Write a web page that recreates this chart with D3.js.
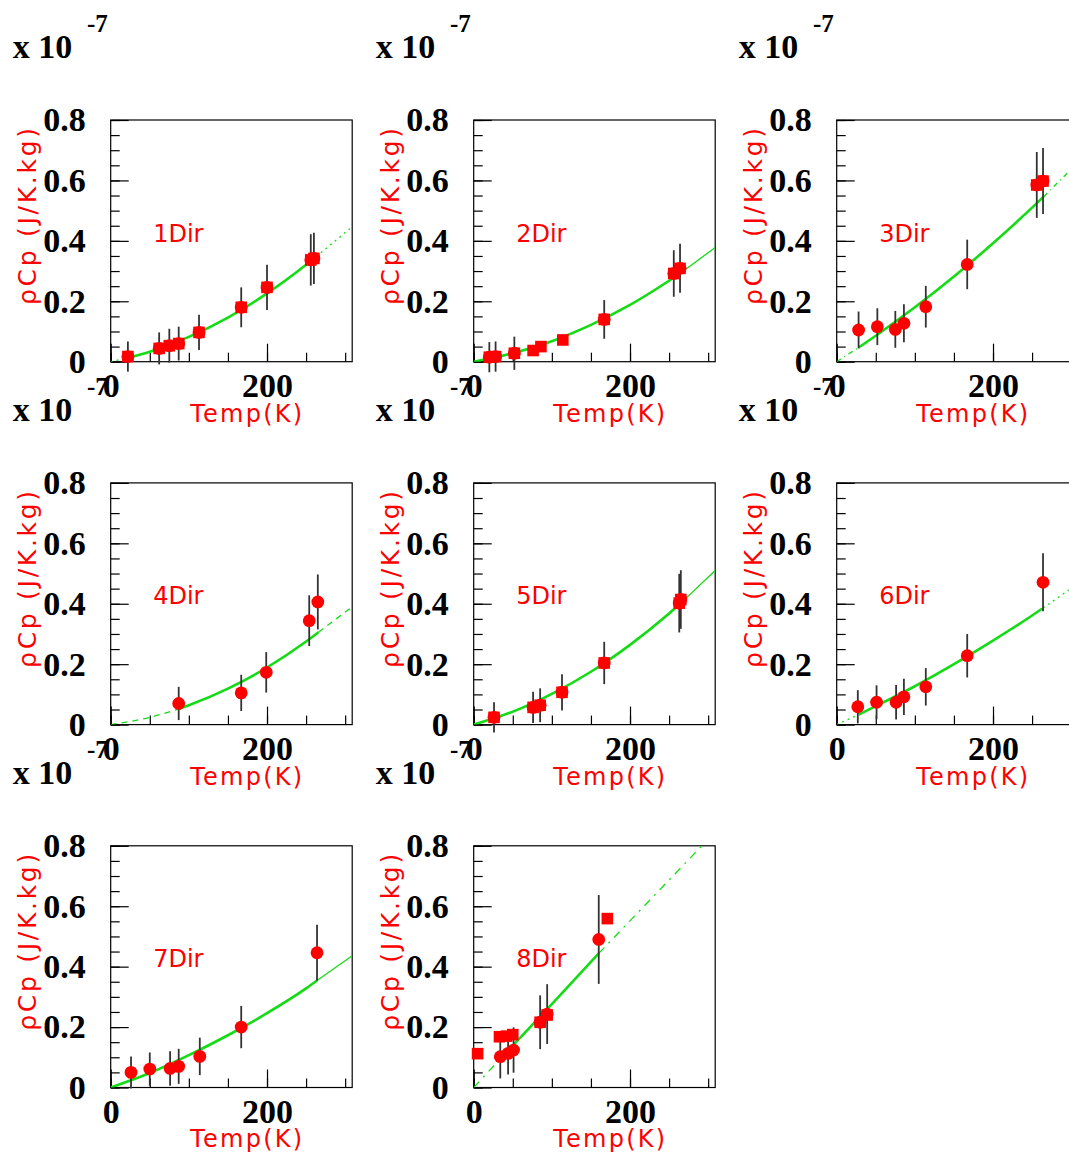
<!DOCTYPE html>
<html><head><meta charset="utf-8">
<script src="https://cdn.jsdelivr.net/npm/d3@7"></script>
<style>body{margin:0;background:#fff;} svg{display:block;}</style>
</head><body><svg id="c" width="1069" height="1158"></svg>
<script>
// ---- data ----
const panelNames = ["1Dir","2Dir","3Dir","4Dir","5Dir","6Dir","7Dir","8Dir"];
const xTickLabels = [0, 200];
const yTickLabels = [0, 0.2, 0.4, 0.6, 0.8];
const xMinorTicks = [0, 50, 100, 150, 200, 250, 300];
const yMinorTicks = [0,0.05,0.1,0.15,0.2,0.25,0.3,0.35,0.4,0.45,0.5,0.55,0.6,0.65,0.7,0.75,0.8];
const xTitle = "Temp(K)";
const yTitle = "\u03C1Cp (J/K.kg)";
const expBase = "x 10";
const expPow = "-7";

// Panel 1
const p1T = [22, 62, 75, 87, 113, 167, 200, 256, 260];
const p1V = [0.017, 0.044, 0.053, 0.06, 0.097, 0.18, 0.246, 0.337, 0.342];
const p1E = [0.05, 0.053, 0.056, 0.056, 0.058, 0.066, 0.075, 0.085, 0.085];
const p1ST = [22, 62, 75, 87, 113, 167, 200, 256, 260];
const p1SV = [0.017, 0.044, 0.053, 0.06, 0.097, 0.18, 0.246, 0.337, 0.342];
const p1FitT = [0, 24, 50, 100, 150, 200, 250, 263, 306];
const p1FitV = [0, 0.014, 0.033, 0.082, 0.146, 0.226, 0.321, 0.348, 0.44];
const p1FitRange = [24, 263];
// Panel 2
const p2T = [20, 28, 52, 167, 256, 264];
const p2V = [0.015, 0.017, 0.028, 0.14, 0.292, 0.309];
const p2E = [0.05, 0.05, 0.055, 0.064, 0.077, 0.081];
const p2ST = [20, 28, 52, 76, 86, 114, 167, 256, 264];
const p2SV = [0.015, 0.017, 0.028, 0.037, 0.05, 0.072, 0.14, 0.292, 0.309];
const p2FitT = [0, 50, 100, 150, 200, 250, 264, 309];
const p2FitV = [0, 0.028, 0.068, 0.122, 0.188, 0.268, 0.292, 0.378];
const p2FitRange = [0, 264];
// Panel 3
const p3T = [28, 52, 75, 86, 114, 167, 256, 264];
const p3V = [0.105, 0.116, 0.107, 0.127, 0.182, 0.322, 0.585, 0.598];
const p3E = [0.061, 0.061, 0.061, 0.063, 0.069, 0.082, 0.109, 0.109];
const p3ST = [256, 264];
const p3SV = [0.585, 0.598];
const p3FitT = [0, 28, 50, 100, 150, 200, 250, 265, 309];
const p3FitV = [0, 0.047, 0.086, 0.18, 0.282, 0.392, 0.51, 0.547, 0.66];
const p3FitRange = [28, 265];
// Panel 4
const p4T = [87, 167, 199, 254, 265];
const p4V = [0.07, 0.105, 0.173, 0.344, 0.406];
const p4E = [0.055, 0.06, 0.067, 0.084, 0.091];
const p4ST = [];
const p4SV = [];
const p4FitT = [0, 50, 87, 100, 150, 200, 250, 266, 309];
const p4FitV = [0, 0.024, 0.052, 0.064, 0.119, 0.189, 0.275, 0.306, 0.39];
const p4FitRange = [87, 266];
// Panel 5
const p5T = [26, 76, 85, 113, 167, 263, 265];
const p5V = [0.024, 0.057, 0.064, 0.107, 0.204, 0.402, 0.414];
const p5E = [0.05, 0.052, 0.056, 0.06, 0.07, 0.097, 0.097];
const p5ST = [26, 76, 85, 113, 167, 263, 265];
const p5SV = [0.024, 0.057, 0.064, 0.107, 0.204, 0.402, 0.414];
const p5FitT = [0, 50, 100, 150, 200, 250, 265, 309];
const p5FitV = [0, 0.043, 0.102, 0.175, 0.264, 0.368, 0.402, 0.51];
const p5FitRange = [0, 265];
// Panel 6
const p6T = [27, 51, 76, 86, 114, 167, 264];
const p6V = [0.059, 0.074, 0.074, 0.092, 0.125, 0.228, 0.471];
const p6E = [0.055, 0.056, 0.057, 0.06, 0.062, 0.072, 0.096];
const p6ST = [];
const p6SV = [];
const p6FitT = [0, 28, 50, 100, 150, 200, 250, 264, 309];
const p6FitV = [0, 0.033, 0.061, 0.127, 0.2, 0.278, 0.361, 0.386, 0.467];
const p6FitRange = [28, 264];
// Panel 7
const p7T = [26, 50, 76, 87, 114, 167, 264];
const p7V = [0.05, 0.061, 0.063, 0.07, 0.103, 0.2, 0.446];
const p7E = [0.053, 0.055, 0.057, 0.058, 0.062, 0.07, 0.093];
const p7ST = [];
const p7SV = [];
const p7FitT = [0, 50, 100, 150, 200, 250, 264, 309];
const p7FitV = [0, 0.048, 0.107, 0.173, 0.246, 0.328, 0.354, 0.436];
const p7FitRange = [0, 264];
// Panel 8
const p8T = [34, 44, 51, 85, 94, 160];
const p8V = [0.102, 0.113, 0.124, 0.216, 0.243, 0.49];
const p8E = [0.072, 0.07, 0.075, 0.089, 0.099, 0.147];
const p8ST = [5, 33, 42, 50, 85, 94, 171];
const p8SV = [0.112, 0.168, 0.17, 0.175, 0.216, 0.24, 0.559];
const p8FitT = [0, 33, 100, 160, 292];
const p8FitV = [0, 0.092, 0.276, 0.444, 0.8];
const p8FitRange = [33, 160];

// ---- styles (separate from data) ----
const extDash = ["2,4", null, "5,4,1,4", "6,5", null, "2,4", null, "8,6,2,6"];

const panels = [
  [p1T,p1V,p1E,p1ST,p1SV,p1FitT,p1FitV,p1FitRange],
  [p2T,p2V,p2E,p2ST,p2SV,p2FitT,p2FitV,p2FitRange],
  [p3T,p3V,p3E,p3ST,p3SV,p3FitT,p3FitV,p3FitRange],
  [p4T,p4V,p4E,p4ST,p4SV,p4FitT,p4FitV,p4FitRange],
  [p5T,p5V,p5E,p5ST,p5SV,p5FitT,p5FitV,p5FitRange],
  [p6T,p6V,p6E,p6ST,p6SV,p6FitT,p6FitV,p6FitRange],
  [p7T,p7V,p7E,p7ST,p7SV,p7FitT,p7FitV,p7FitRange],
  [p8T,p8V,p8E,p8ST,p8SV,p8FitT,p8FitV,p8FitRange]
].map((a, i) => ({name: panelNames[i], T:a[0], V:a[1], E:a[2], ST:a[3], SV:a[4], fitT:a[5], fitV:a[6], range:a[7]}));

// ---- drawing ----
const svg = d3.select("#c");
const W = 241.5, H = 241.7;
const PAD = 363;
const RED = "#ff0000", GREEN = "#14dc14";
const serif = "'Liberation Serif', 'Times New Roman', serif";
const sans = "'DejaVu Sans', sans-serif";
const x = d3.scaleLinear().domain([0, 309]).range([0, W]);
const y = d3.scaleLinear().domain([0, 0.8]).range([H, 0]);
const line = d3.line().x(d => x(d[0])).y(d => y(d[1])).curve(d3.curveMonotoneX);

panels.forEach((p, i) => {
  const col = i % 3, row = Math.floor(i / 3);
  const padX = PAD * col;
  const fx = 110.7 + padX, fy = 120 + 362.9 * row;

  // exponent label
  svg.append("text").attr("x", padX + 12.7).attr("y", fy - 62)
    .attr("font-family", serif).attr("font-weight", "bold").attr("font-size", 34)
    .text(expBase);
  svg.append("text").attr("x", padX + 87).attr("y", fy - 88)
    .attr("font-family", serif).attr("font-weight", "bold").attr("font-size", 25)
    .text(expPow);

  const g = svg.append("g").attr("transform", `translate(${fx},${fy})`);

  // minor ticks
  g.append("g").attr("transform", `translate(0,${H})`)
    .call(d3.axisBottom(x).tickValues(xMinorTicks).tickSize(-9).tickFormat(() => ""))
    .call(a => a.select(".domain").remove());
  g.append("g")
    .call(d3.axisLeft(y).tickValues(yMinorTicks).tickSize(-9).tickFormat(() => ""))
    .call(a => a.select(".domain").remove());
  // major ticks with labels
  const styleAxis = a => {
    a.select(".domain").remove();
    a.attr("font-family", serif).attr("font-size", 34).attr("font-weight", "bold");
    a.selectAll("text").attr("fill", "#000");
    a.selectAll("line").attr("stroke", "#000").attr("stroke-width", 1.2);
  };
  g.append("g").attr("transform", `translate(0,${H})`)
    .call(d3.axisBottom(x).tickValues(xTickLabels).tickSize(-18).tickPadding(11).tickFormat(d3.format("d")))
    .call(styleAxis);
  g.append("g")
    .call(d3.axisLeft(y).tickValues(yTickLabels).tickSize(-18).tickPadding(25)
      .tickFormat(d => d === 0 ? "0" : d3.format(".1f")(d)))
    .call(styleAxis);
  g.selectAll(".tick line").attr("stroke", "#000").attr("stroke-width", 1.2);

  // frame
  g.append("rect").attr("width", W).attr("height", H)
    .attr("fill", "none").attr("stroke", "#000").attr("stroke-width", 1.2);

  // clip
  const cid = "clip" + i;
  g.append("clipPath").attr("id", cid).append("rect").attr("width", W).attr("height", H);
  const inner = g.append("g").attr("clip-path", `url(#${cid})`);

  // fit curve
  const pts = p.fitT.map((t, k) => [t, p.fitV[k]]);
  const lo = p.range[0], hi = p.range[1];
  const lower = pts.filter(d => d[0] <= lo);
  const upper = pts.filter(d => d[0] >= hi);
  const mid = pts.filter(d => d[0] >= lo && d[0] <= hi);
  [lower, upper].forEach(seg => {
    if (seg.length < 2) return;
    inner.append("path").attr("d", line(seg)).attr("fill", "none")
      .attr("stroke", GREEN).attr("stroke-width", 1.3)
      .attr("stroke-dasharray", extDash[i]);
  });
  inner.append("path").attr("d", line(mid)).attr("fill", "none")
    .attr("stroke", GREEN).attr("stroke-width", 2.6);

  // error bars
  const data = p.T.map((t, k) => ({t, v: p.V[k], e: p.E[k]}));
  g.selectAll(".eb").data(data).join("line")
    .attr("x1", d => x(d.t)).attr("x2", d => x(d.t))
    .attr("y1", d => y(d.v - d.e)).attr("y2", d => y(Math.min(d.v + d.e, 0.8)))
    .attr("stroke", "#333").attr("stroke-width", 1.8);
  // circles
  g.selectAll(".pt").data(data).join("circle")
    .attr("cx", d => x(d.t)).attr("cy", d => y(d.v)).attr("r", 6.4).attr("fill", RED);
  // squares
  const sq = p.ST.map((t, k) => ({t, v: p.SV[k]}));
  const s = 11.6;
  g.selectAll(".sq").data(sq).join("rect")
    .attr("x", d => x(d.t) - s / 2).attr("y", d => y(d.v) - s / 2)
    .attr("width", s).attr("height", s).attr("fill", RED);

  // panel label
  g.append("text").attr("x", 42.5).attr("y", 121.5)
    .attr("font-family", sans).attr("font-size", 24).attr("fill", RED).text(p.name);

  // axis titles
  g.append("text").attr("x", W - 50).attr("y", H + 60).attr("text-anchor", "end")
    .attr("font-family", sans).attr("font-size", 24).attr("fill", RED)
    .attr("textLength", 112).attr("lengthAdjust", "spacing").text(xTitle);
  g.append("text").attr("transform", `translate(-75,8) rotate(-90)`).attr("text-anchor", "end")
    .attr("font-family", sans).attr("font-size", 25).attr("fill", RED)
    .attr("textLength", 177).attr("lengthAdjust", "spacing").text(yTitle);
});
</script>
</body></html>
